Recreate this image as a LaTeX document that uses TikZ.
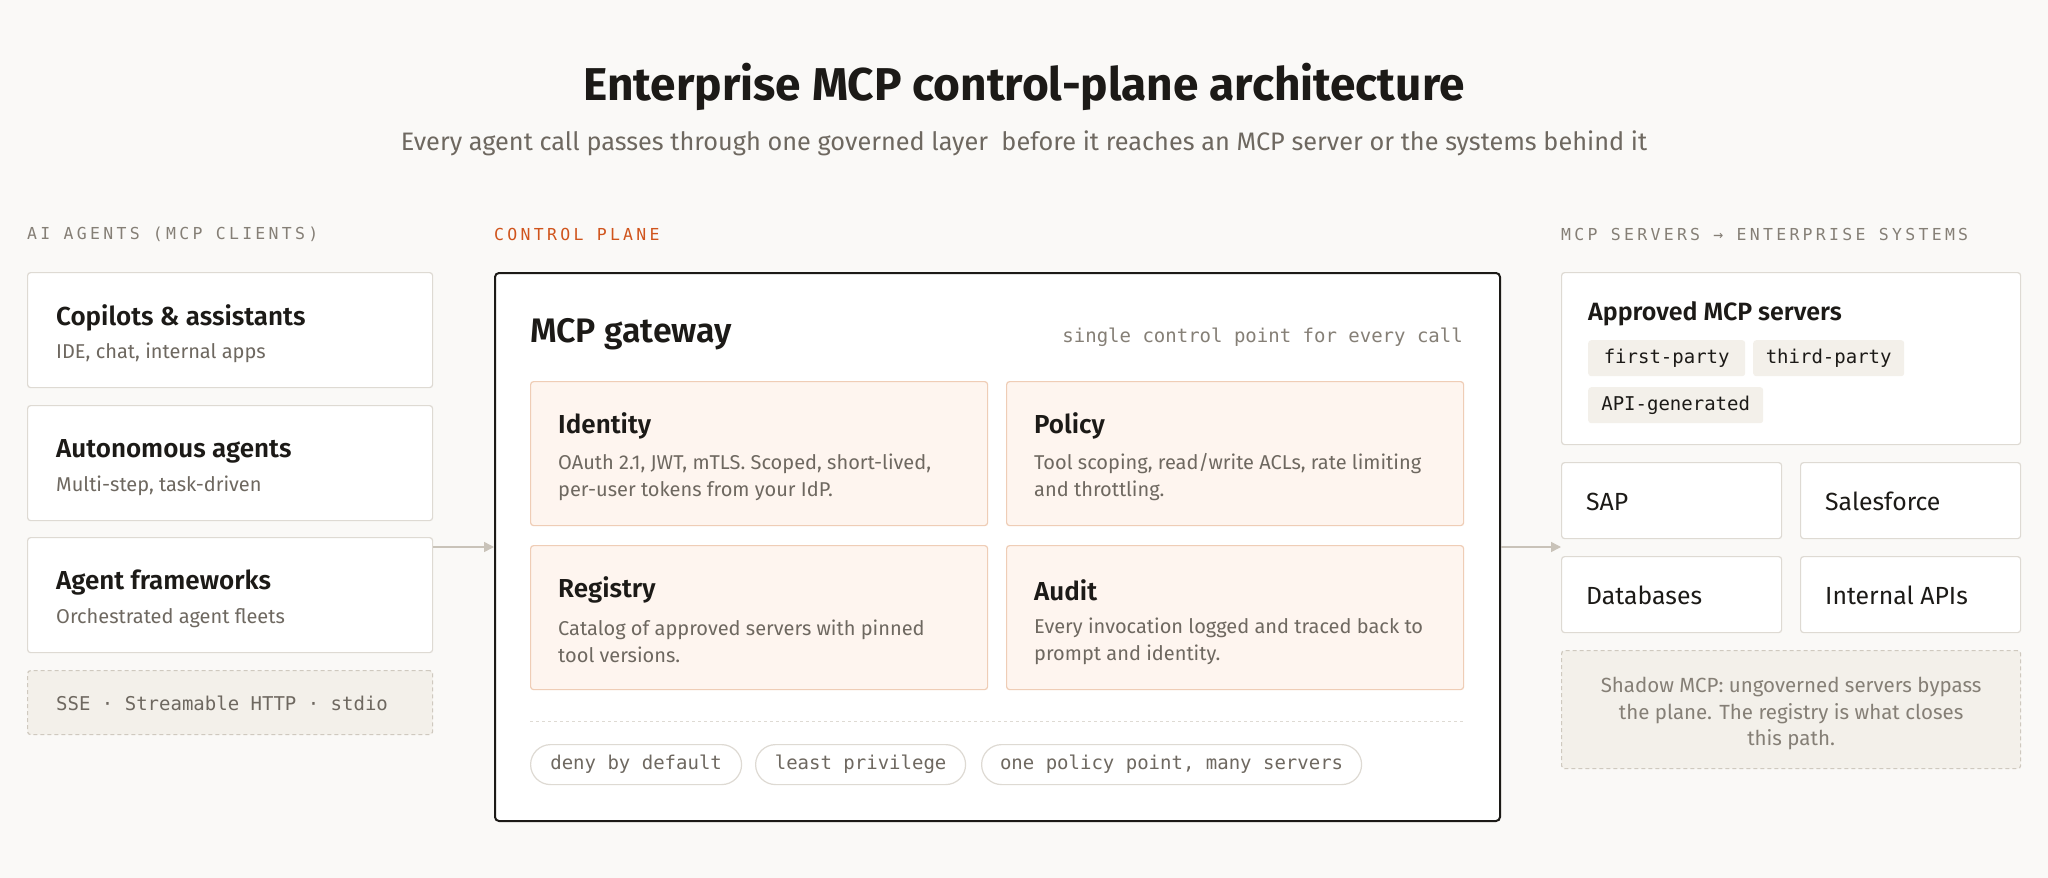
\documentclass[tikz,border=0pt]{standalone}
\usepackage{fontspec}
\setmainfont{Fira Sans}
\setmonofont{DejaVu Sans Mono}
\newfontfamily\semifont{Fira Sans SemiBold}
\newfontfamily\spacedmono[LetterSpace=20]{DejaVu Sans Mono}
\usetikzlibrary{positioning, calc, arrows.meta}

\definecolor{paper}{HTML}{FAF9F7}
\definecolor{ink}{HTML}{1C1A17}
\definecolor{muted}{HTML}{6E6860}
\definecolor{labelgray}{HTML}{857F76}
\definecolor{accent}{HTML}{D0541C}
\definecolor{cardline}{HTML}{DEDAD3}
\definecolor{peach}{HTML}{FEF5EF}
\definecolor{peachline}{HTML}{EFCDB6}
\definecolor{notefill}{HTML}{F3F0EA}
\definecolor{noteline}{HTML}{CFC9BF}
\definecolor{arrowgray}{HTML}{C9C3B9}

\tikzstyle{card} = [draw=cardline, fill=white, line width=1.2pt, rounded corners=3pt, anchor=north west, inner sep=0pt]
\tikzstyle{plane} = [draw=ink, fill=white, line width=2pt, rounded corners=4pt, anchor=north west, inner sep=0pt]
\tikzstyle{module} = [draw=peachline, fill=peach, line width=1.2pt, rounded corners=3pt, anchor=north west, inner sep=0pt, minimum width=457pt, minimum height=144pt]
\tikzstyle{note} = [draw=noteline, fill=notefill, dash pattern=on 4pt off 3pt, line width=1.2pt, rounded corners=3pt, anchor=north west, inner sep=0pt]
\tikzstyle{chip} = [fill=notefill, rounded corners=3pt, anchor=north west, inner sep=0pt, minimum height=36pt, text=ink, font=\ttfamily\fontsize{19}{22}\selectfont]
\tikzstyle{pill} = [draw=cardline, fill=white, line width=1.2pt, rounded corners=20pt, anchor=north west, inner sep=0pt, minimum height=40pt, text=muted, font=\ttfamily\fontsize{19}{22}\selectfont]
\tikzstyle{colabel} = [anchor=west, inner sep=0pt, text=labelgray, font=\spacedmono\fontsize{16.5}{20}\selectfont]
\tikzstyle{head} = [anchor=west, inner sep=0pt, text=ink, font=\semifont\fontsize{26}{30}\selectfont]
\tikzstyle{sub} = [anchor=west, inner sep=0pt, text=muted, font=\fontsize{20}{24}\selectfont]
\tikzstyle{body} = [anchor=west, inner sep=0pt, text=muted, align=left, font=\fontsize{20}{27}\selectfont]
\tikzstyle{plain} = [anchor=west, inner sep=0pt, text=ink, font=\fontsize{24.8}{28}\selectfont]
\tikzstyle{arrow} = [draw=arrowgray, line width=1.5pt, -{Triangle[length=10pt,width=10pt]}]

\begin{document}
\begin{tikzpicture}[x=1pt, y=-1pt]
        \useasboundingbox[fill=paper] (0,0) rectangle (2048,878);

        % Heading
        \node[inner sep=0pt, text=ink, font=\bfseries\fontsize{46}{54}\selectfont] (title) at (1024,87) {Enterprise MCP control-plane architecture};
        \node[inner sep=0pt, text=muted, font=\fontsize{25.3}{30}\selectfont] (subtitle) at (1024,143) {Every agent call passes through one governed layer\ \ before it reaches an MCP server or the systems behind it};

        % Column labels
        \node[colabel] (agentslbl) at (27,234) {AI AGENTS (MCP CLIENTS)};
        \node[colabel, text=accent] (planelbl) at (494,234) {CONTROL PLANE};
        \node[colabel] (serverslbl) at (1561,234) {MCP SERVERS → ENTERPRISE SYSTEMS};

        % Agents on the left
        \node[card, minimum width=405pt, minimum height=115pt] (copilots) at (27,272) {};
        \node[card, minimum width=405pt, minimum height=115pt] (autonomous) at (27,405) {};
        \node[card, minimum width=405pt, minimum height=115pt] (frameworks) at (27,537) {};
        \node[head] (copilotst) at ($(copilots.north west)+(29,46)$) {Copilots \& assistants};
        \node[sub] (copilotss) at ($(copilots.north west)+(29,81)$) {IDE, chat, internal apps};
        \node[head] (autonomoust) at ($(autonomous.north west)+(29,46)$) {Autonomous agents};
        \node[sub] (autonomouss) at ($(autonomous.north west)+(29,81)$) {Multi-step, task-driven};
        \node[head] (frameworkst) at ($(frameworks.north west)+(29,46)$) {Agent frameworks};
        \node[sub] (frameworkss) at ($(frameworks.north west)+(29,81)$) {Orchestrated agent fleets};
        \node[note, minimum width=405pt, minimum height=64pt] (transport) at (27,670) {};
        \node[anchor=west, inner sep=0pt, text=muted, font=\ttfamily\fontsize{19}{22}\selectfont] (transportt) at ($(transport.west)+(29,1)$) {SSE · Streamable HTTP · stdio};

        % Control plane
        \node[plane, minimum width=1005pt, minimum height=548pt] (gateway) at (494,272) {};
        \node[anchor=west, inner sep=0pt, text=ink, font=\semifont\fontsize{34}{40}\selectfont] (gatewayt) at (530,334) {MCP gateway};
        \node[anchor=east, inner sep=0pt, text=labelgray, font=\ttfamily\fontsize{19}{22}\selectfont] (gatewayn) at (1463,337) {single control point for every call};

        \node[module] (identity) at (530,381) {};
        \node[module] (policy) at (1006,381) {};
        \node[module] (registry) at (530,545) {};
        \node[module] (audit) at (1006,545) {};
        \node[head] (identityt) at ($(identity.north west)+(28,45)$) {Identity};
        \node[body] (identityb) at ($(identity.north west)+(28,96)$) {OAuth 2.1, JWT, mTLS. Scoped, short-lived,\\per-user tokens from your IdP.};
        \node[head] (policyt) at ($(policy.north west)+(28,45)$) {Policy};
        \node[body] (policyb) at ($(policy.north west)+(28,96)$) {Tool scoping, read/write ACLs, rate limiting\\and throttling.};
        \node[head] (registryt) at ($(registry.north west)+(28,45)$) {Registry};
        \node[body] (registryb) at ($(registry.north west)+(28,96)$) {Catalog of approved servers with pinned\\tool versions.};
        \node[head] (auditt) at ($(audit.north west)+(28,45)$) {Audit};
        \node[body] (auditb) at ($(audit.north west)+(28,96)$) {Every invocation logged and traced back to\\prompt and identity.};

        \coordinate (divl) at (530,721);
        \coordinate (divr) at (1463,721);
        \draw[draw=cardline, line width=1pt, dash pattern=on 3pt off 3pt] (divl) -- (divr);

        \node[pill, minimum width=211pt] (deny) at (530,744) {deny by default};
        \node[pill, minimum width=210pt] (least) at (755,744) {least privilege};
        \node[pill, minimum width=380pt] (onepoint) at (981,744) {one policy point, many servers};

        % Servers and systems on the right
        \node[card, minimum width=459pt, minimum height=172pt] (approved) at (1561,272) {};
        \node[head, font=\semifont\fontsize{25}{30}\selectfont] (approvedt) at ($(approved.north west)+(27,42)$) {Approved MCP servers};
        \node[chip, minimum width=157pt] (firstparty) at (1588,340) {first-party};
        \node[chip, minimum width=151pt] (thirdparty) at (1753,340) {third-party};
        \node[chip, minimum width=175pt] (apigen) at (1588,387) {API-generated};

        \node[card, minimum width=220pt, minimum height=76pt] (sap) at (1561,462) {};
        \node[card, minimum width=220pt, minimum height=76pt] (salesforce) at (1800,462) {};
        \node[card, minimum width=220pt, minimum height=76pt] (databases) at (1561,556) {};
        \node[card, minimum width=220pt, minimum height=76pt] (internal) at (1800,556) {};
        \node[plain] (sapt) at ($(sap.west)+(25,1)$) {SAP};
        \node[plain] (salesforcet) at ($(salesforce.west)+(25,1)$) {Salesforce};
        \node[plain] (databasest) at ($(databases.west)+(25,1)$) {Databases};
        \node[plain] (internalt) at ($(internal.west)+(25,1)$) {Internal APIs};

        \node[note, minimum width=459pt, minimum height=118pt] (shadow) at (1561,650) {};
        \node[inner sep=0pt, text=labelgray, align=center, font=\fontsize{20.5}{26.5}\selectfont] (shadowt) at ($(shadow.center)+(0,4)$) {Shadow MCP: ungoverned servers bypass\\the plane. The registry is what closes\\this path.};

        % Connections
        \draw[arrow] (gateway.west -| frameworks.east) -- (gateway.west);
        \draw[arrow] (gateway.east) -- (gateway.east -| sap.west);

    \end{tikzpicture}
\end{document}
